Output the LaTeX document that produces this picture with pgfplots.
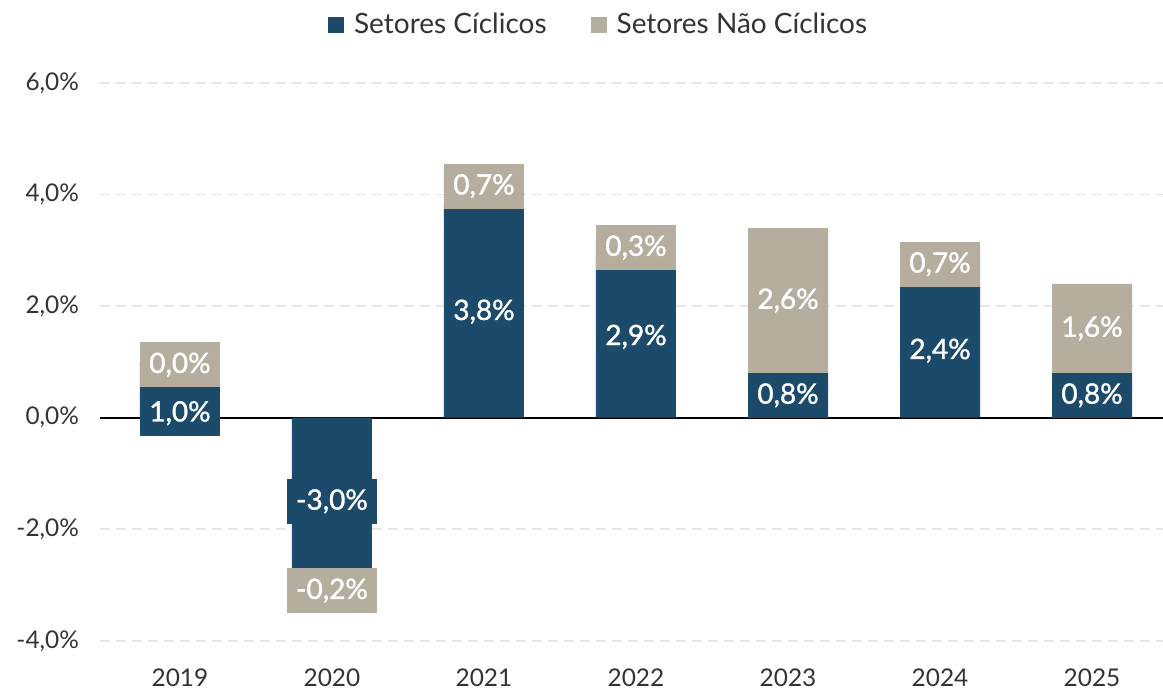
\documentclass[border=0pt]{standalone}
\usepackage{pgfplots}
\pgfplotsset{compat=1.18}
\usepackage{fontspec}
\setmainfont{Lato}
\newfontfamily\lblfont{Lato}[BoldFont=Lato, BoldFeatures={FakeBold=1.3}]
\usetikzlibrary{calc}

\definecolor{cic}{HTML}{1C4A6A}
\definecolor{ncic}{HTML}{B5AE9E}
\definecolor{txt}{HTML}{333333}
\definecolor{gridc}{HTML}{E6E6E6}

% value label with a filled box in the colour of its segment (drawn over the bars)
\newcommand{\lbl}[3]{\node[fill=#2, text=white, inner xsep=4.5pt, inner ysep=0pt,
  minimum height=22.5pt, font=\lblfont\bfseries\fontsize{14}{14}\selectfont] at (#1) {#3};}

\begin{document}
\begin{tikzpicture}
  \begin{axis}[
      scale only axis,
      width=531.5pt, height=284.5pt,
      ybar stacked,
      bar width=40pt,
      xmin=-0.526, xmax=6.467,
      ymin=-4.2, ymax=6,
      xtick={0,...,6},
      xticklabels={2019,2020,2021,2022,2023,2024,2025},
      ytick={-4,-2,0,2,4,6},
      yticklabels={{-4,0\%},{-2,0\%},{0,0\%},{2,0\%},{4,0\%},{6,0\%}},
      axis line style={draw=none},
      tick style={draw=none},
      ymajorgrids,
      grid style={gridc, dash pattern=on 5pt off 3pt, line width=0.8pt},
      extra y ticks={0},
      extra y tick labels={},
      extra y tick style={grid style={black, solid, line width=1pt}},
      ticklabel style={font=\fontsize{12.2}{13}\selectfont, text=txt},
      yticklabel style={xshift=-7pt},
      xticklabel style={yshift=-5pt},
      legend style={at={(0.47,1.102)}, anchor=center, draw=none, fill=none,
        legend columns=2, font=\fontsize{14}{14}\selectfont, text=txt,
        /tikz/every odd column/.append style={column sep=3pt},
        /tikz/every even column/.append style={column sep=20pt}},
    ]
    \addplot[fill=cic, draw=none, area legend,
      legend image code/.code={\fill[cic] (0pt,-4pt) rectangle (8pt,4pt);}]
      coordinates {(0,1.0) (1,-3.0) (2,3.8) (3,2.9) (4,0.8) (5,2.4) (6,0.8)};
    \addplot[fill=ncic, draw=none, area legend,
      legend image code/.code={\fill[ncic] (0pt,-4pt) rectangle (8pt,4pt);}]
      coordinates {(0,0.0) (1,-0.2) (2,0.7) (3,0.3) (4,2.6) (5,0.7) (6,1.6)};
    \legend{Setores Cíclicos, Setores Não Cíclicos}

    % label anchors (c = cíclicos, n = não cíclicos)
    \coordinate (c0) at (axis cs:0,0.08);  \coordinate (n0) at (axis cs:0,0.95);
    \coordinate (c1) at (axis cs:1,-1.5);  \coordinate (n1) at (axis cs:1,-3.1);
    \coordinate (c2) at (axis cs:2,1.9);   \coordinate (n2) at (axis cs:2,4.15);
    \coordinate (c3) at (axis cs:3,1.45);  \coordinate (n3) at (axis cs:3,3.05);
    \coordinate (c4) at (axis cs:4,0.4);   \coordinate (n4) at (axis cs:4,2.1);
    \coordinate (c5) at (axis cs:5,1.2);   \coordinate (n5) at (axis cs:5,2.75);
    \coordinate (c6) at (axis cs:6,0.4);   \coordinate (n6) at (axis cs:6,1.6);

    \coordinate (sw) at (rel axis cs:0,0);
    \coordinate (ne) at (rel axis cs:1,1);
  \end{axis}

  \lbl{c0}{cic}{1,0\%}   \lbl{n0}{ncic}{0,0\%}
  \lbl{c1}{cic}{-3,0\%}  \lbl{n1}{ncic}{-0,2\%}
  \lbl{c2}{cic}{3,8\%}   \lbl{n2}{ncic}{0,7\%}
  \lbl{c3}{cic}{2,9\%}   \lbl{n3}{ncic}{0,3\%}
  \lbl{c4}{cic}{0,8\%}   \lbl{n4}{ncic}{2,6\%}
  \lbl{c5}{cic}{2,4\%}   \lbl{n5}{ncic}{0,7\%}
  \lbl{c6}{cic}{0,8\%}   \lbl{n6}{ncic}{1,6\%}

  \pgfresetboundingbox
  \path[use as bounding box] ($(sw)+(-50pt,-19pt)$) rectangle ($(ne)+(0pt,41.5pt)$);
\end{tikzpicture}
\end{document}
